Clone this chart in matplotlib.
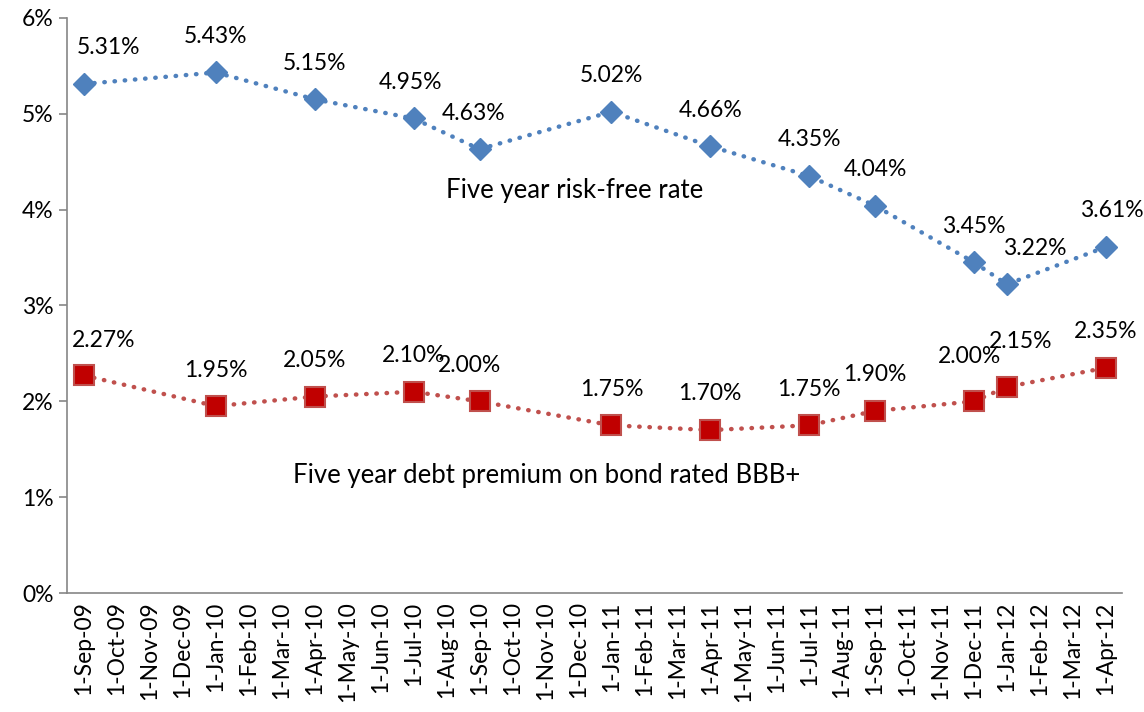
import matplotlib
matplotlib.use("Agg")
import matplotlib.pyplot as plt
from matplotlib.ticker import FuncFormatter

plt.rcParams['font.family'] = ['Lato', 'DejaVu Sans']

# === Data ===
months = ["1-Sep-09", "1-Oct-09", "1-Nov-09", "1-Dec-09", "1-Jan-10", "1-Feb-10",
          "1-Mar-10", "1-Apr-10", "1-May-10", "1-Jun-10", "1-Jul-10", "1-Aug-10",
          "1-Sep-10", "1-Oct-10", "1-Nov-10", "1-Dec-10", "1-Jan-11", "1-Feb-11",
          "1-Mar-11", "1-Apr-11", "1-May-11", "1-Jun-11", "1-Jul-11", "1-Aug-11",
          "1-Sep-11", "1-Oct-11", "1-Nov-11", "1-Dec-11", "1-Jan-12", "1-Feb-12",
          "1-Mar-12", "1-Apr-12"]
obs_dates = ["1-Sep-09", "1-Jan-10", "1-Apr-10", "1-Jul-10", "1-Sep-10", "1-Jan-11",
             "1-Apr-11", "1-Jul-11", "1-Sep-11", "1-Dec-11", "1-Jan-12", "1-Apr-12"]
risk_free = [5.31, 5.43, 5.15, 4.95, 4.63, 5.02, 4.66, 4.35, 4.04, 3.45, 3.22, 3.61]
debt_premium = [2.27, 1.95, 2.05, 2.10, 2.00, 1.75, 1.70, 1.75, 1.90, 2.00, 2.15, 2.35]

x = [months.index(d) for d in obs_dates]

# label offsets in points (dx, dy); default is straight above
rf_offsets = {0: (18, 26), 3: (-2, 26), 4: (-4, 26), 10: (20, 26), 11: (4, 26)}
dp_offsets = {0: (14, 25), 4: (-7, 26), 9: (-3, 32), 10: (10, 33)}

blue = "#4F81BD"
red_line = "#C0504D"
red_fill = "#C00000"
grey = "#868686"
fs = 16.5

fig, ax = plt.subplots(figsize=(11.44, 7.12), dpi=100)
fig.subplots_adjust(left=0.059, right=0.981, top=0.975, bottom=0.167)

ax.plot(x, risk_free, color=blue, linestyle=(0, (0.1, 2.2)), linewidth=3.2,
        dash_capstyle="round", marker="D", markersize=11, markerfacecolor=blue,
        markeredgecolor=blue, zorder=3)
ax.plot(x, debt_premium, color=red_line, linestyle=(0, (0.1, 2.2)), linewidth=3.2,
        dash_capstyle="round", marker="s", markersize=14, markerfacecolor=red_fill,
        markeredgecolor=red_line, markeredgewidth=1.5, zorder=3)

for i, (xi, v) in enumerate(zip(x, risk_free)):
    dx, dy = rf_offsets.get(i, (0, 26))
    ax.annotate(f"{v:.2f}%", (xi, v), xytext=(dx, dy), textcoords="offset points",
                ha="center", va="center", fontsize=fs)
for i, (xi, v) in enumerate(zip(x, debt_premium)):
    dx, dy = dp_offsets.get(i, (0, 26))
    ax.annotate(f"{v:.2f}%", (xi, v), xytext=(dx, dy), textcoords="offset points",
                ha="center", va="center", fontsize=fs)

ax.text(14.9, 4.2, "Five year risk-free rate", ha="center", va="center", fontsize=18.5)
ax.text(14.05, 1.23, "Five year debt premium on bond rated BBB+", ha="center",
        va="center", fontsize=18.5)

ax.set_xlim(-0.5, len(months) - 0.5)
ax.set_ylim(0, 6)
ax.set_yticks(range(0, 7))
ax.yaxis.set_major_formatter(FuncFormatter(lambda v, p: f"{v:.0f}%"))
ax.set_xticks(range(len(months)))
ax.set_xticklabels(months, rotation=90)
ax.tick_params(axis="x", length=0, pad=6, labelsize=fs)
ax.tick_params(axis="y", length=6, width=1.2, color=grey, pad=4, labelsize=fs)

for side in ["top", "right"]:
    ax.spines[side].set_visible(False)
for side in ["left", "bottom"]:
    ax.spines[side].set_color(grey)
    ax.spines[side].set_linewidth(1.2)

plt.savefig("out.png", dpi=100)
